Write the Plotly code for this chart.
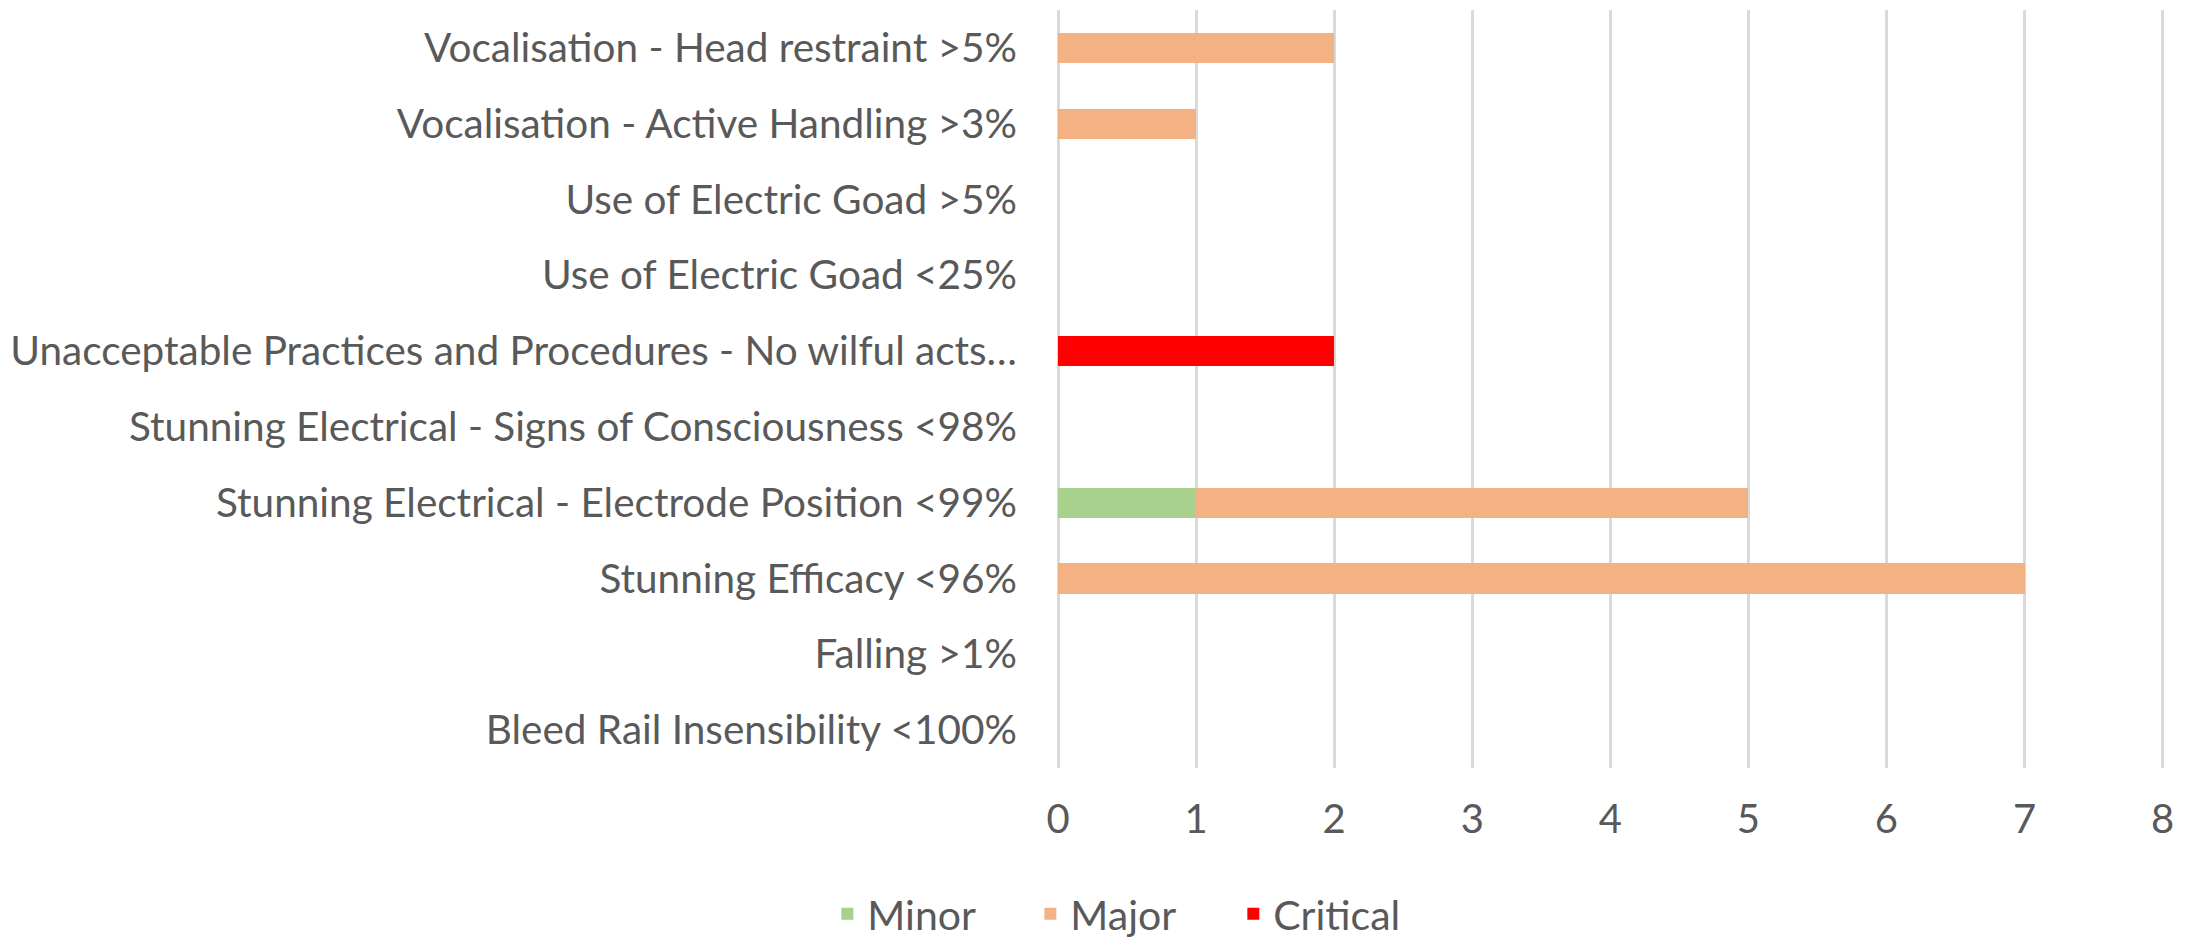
import plotly.graph_objects as go

categories = [
    "Bleed Rail Insensibility <100%",
    "Falling >1%",
    "Stunning Efficacy <96%",
    "Stunning Electrical - Electrode Position <99%",
    "Stunning Electrical - Signs of Consciousness <98%",
    "Unacceptable Practices and Procedures - No wilful acts…",
    "Use of Electric Goad <25%",
    "Use of Electric Goad >5%",
    "Vocalisation - Active Handling >3%",
    "Vocalisation - Head restraint >5%",
]
minor = [0, 0, 0, 1, 0, 0, 0, 0, 0, 0]
major = [0, 0, 7, 4, 0, 0, 0, 0, 1, 2]
critical = [0, 0, 0, 0, 0, 2, 0, 0, 0, 0]
x_ticks = [0, 1, 2, 3, 4, 5, 6, 7, 8]

FONT = "Lato"
TXT = "#595959"

fig = go.Figure()
fig.add_trace(go.Bar(y=categories, x=minor, orientation="h", name="Minor", marker=dict(color="#A9D18E", line_width=0)))
fig.add_trace(go.Bar(y=categories, x=major, orientation="h", name="Major", marker=dict(color="#F4B183", line_width=0)))
fig.add_trace(go.Bar(y=categories, x=critical, orientation="h", name="Critical", marker=dict(color="#FF0000", line_width=0)))

fig.update_layout(
    width=2195, height=938,
    barmode="stack", bargap=0.6,
    plot_bgcolor="white", paper_bgcolor="white",
    margin=dict(l=1050, r=39, t=2, b=178),
    font=dict(family=FONT, size=41, color=TXT),
    showlegend=True,
    legend=dict(orientation="h", traceorder="normal", xref="container", yref="container", x=0.512, y=0.034,
                xanchor="center", yanchor="middle", font=dict(size=41, color=TXT),
                itemwidth=30, tracegroupgap=0, entrywidth=158, entrywidthmode="pixels"),
)
fig.update_xaxes(range=[0, 8.01], tickvals=x_ticks, showgrid=True, gridcolor="#D9D9D9", gridwidth=3,
                 zeroline=True, zerolinecolor="#D9D9D9", zerolinewidth=3,
                 showline=False, ticks="", ticklabelstandoff=24, automargin=False,
                 tickfont=dict(size=40, color=TXT))
fig.update_yaxes(showgrid=False, zeroline=False, showline=False, ticks="", ticklabelstandoff=40,
                 automargin=False,
                 tickfont=dict(size=40.5, color=TXT), categoryorder="array", categoryarray=categories)

fig.write_html("out.html")
